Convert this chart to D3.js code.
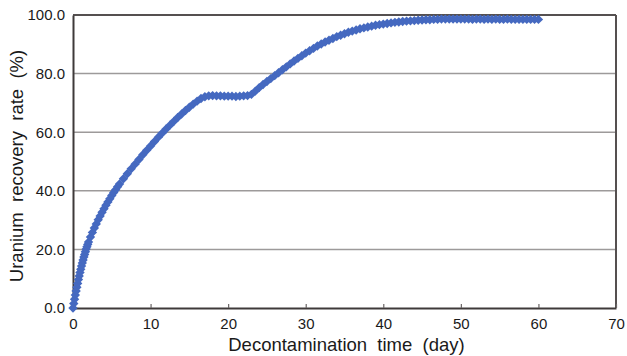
<!DOCTYPE html>
<html>
<head>
<meta charset="utf-8">
<script src="https://cdn.jsdelivr.net/npm/d3@7"></script>
<style>
  html, body { margin: 0; padding: 0; background: #fff; }
  svg { display: block; }
  text { font-family: "Liberation Sans", Arial, sans-serif; fill: #1a1a1a; }
</style>
</head>
<body>
<svg id="chart" width="627" height="356"></svg>
<script>
// ---- data ----
const days = [
  0,0.1,0.2,0.3,0.4,0.5,0.6,0.7,0.8,0.9,1.0,1.1,1.2,1.3,1.4,1.5,1.6,1.7,1.8,1.9,2.0,
  2.25,2.5,2.75,3,3.25,3.5,3.75,4,4.25,4.5,4.75,5,5.25,5.5,5.75,6,
  6.5,7,7.5,8,8.5,9,9.5,10,10.5,11,11.5,12,12.5,13,13.5,14,14.5,15,15.5,16,16.5,
  17,17.5,18,18.5,19,19.5,20,20.5,21,21.5,22,22.5,23,23.5,24,24.5,25,25.5,26,26.5,
  27,27.5,28,28.5,29,29.5,30,30.5,31,31.5,32,32.5,33,33.5,34,34.5,35,35.5,36,36.5,
  37,37.5,38,38.5,39,39.5,40,40.5,41,41.5,42,42.5,43,43.5,44,44.5,45,45.5,46,46.5,
  47,47.5,48,48.5,49,49.5,50,50.5,51,51.5,52,52.5,53,53.5,54,54.5,55,55.5,56,56.5,
  57,57.5,58,58.5,59,59.5,60
];
const recovery = [
  0,1.5,3.0,4.4,5.8,7.1,8.4,9.7,10.9,12.1,13.2,14.3,15.4,16.4,17.4,18.3,19.2,20.1,20.9,21.7,22.5,
  24.2,25.8,27.3,28.7,30.1,31.4,32.7,33.9,35.1,36.2,37.3,38.4,39.4,40.4,41.4,42.3,
  44.1,45.8,47.5,49.1,50.7,52.3,53.8,55.3,56.8,58.3,59.7,61.1,62.4,63.7,65.0,66.2,67.4,68.5,69.6,70.6,71.5,
  72.1,72.4,72.5,72.4,72.4,72.3,72.3,72.3,72.2,72.3,72.4,72.5,72.9,74.0,75.2,76.3,77.3,78.3,79.3,80.3,
  81.3,82.3,83.3,84.3,85.2,86.1,87.0,87.8,88.6,89.4,90.1,90.8,91.4,92.0,92.6,93.1,93.6,94.1,94.5,94.9,
  95.3,95.6,95.9,96.2,96.5,96.7,96.9,97.1,97.3,97.5,97.6,97.8,97.9,98.0,98.1,98.2,98.3,98.4,98.4,98.5,
  98.5,98.6,98.6,98.6,98.6,98.6,98.6,98.6,98.6,98.5,98.6,98.6,98.5,98.6,98.5,98.6,98.5,98.5,98.6,98.5,
  98.5,98.5,98.5,98.5,98.5,98.5,98.5
];
const xTicks = [0,10,20,30,40,50,60,70];
const yTicks = [0,20,40,60,80,100];
const xTitle = "Decontamination\u00a0\u00a0time\u00a0\u00a0(day)";
const yTitle = "Uranium\u00a0\u00a0recovery\u00a0\u00a0rate\u00a0\u00a0(%)";

// ---- layout ----
const svg = d3.select("#chart");
const L = 73, R = 616, T = 15, B = 308;
const x = d3.scaleLinear().domain([0, 70]).range([L, R]);
const y = d3.scaleLinear().domain([0, 100]).range([B, T]);

// gridlines
svg.append("g")
  .selectAll("line")
  .data(yTicks.filter(v => v > 0 && v < 100))
  .join("line")
  .attr("x1", L).attr("x2", R)
  .attr("y1", d => y(d)).attr("y2", d => y(d))
  .attr("stroke", "#9d9a9a").attr("stroke-width", 1.5);

// frame (top & right)
svg.append("line").attr("x1", L).attr("x2", R).attr("y1", T).attr("y2", T)
  .attr("stroke", "#555050").attr("stroke-width", 2);
svg.append("line").attr("x1", R).attr("x2", R).attr("y1", T).attr("y2", B)
  .attr("stroke", "#555050").attr("stroke-width", 2);

// x axis
const xAxis = svg.append("g").attr("transform", `translate(0,${B})`)
  .call(d3.axisBottom(x).tickValues(xTicks).tickSizeInner(-4).tickSizeOuter(0).tickPadding(10)
        .tickFormat(d3.format("d")));
xAxis.select(".domain").attr("stroke", "#3f3a3a").attr("stroke-width", 2);
xAxis.selectAll(".tick line").attr("stroke", "#6a6565").attr("stroke-width", 1.2);
xAxis.selectAll(".tick text").attr("font-size", 15).attr("fill", "#1a1a1a")
  .attr("font-family", "Liberation Sans, Arial, sans-serif");

// y axis
const yAxis = svg.append("g").attr("transform", `translate(${L},0)`)
  .call(d3.axisLeft(y).tickValues(yTicks).tickSize(0).tickPadding(8)
        .tickFormat(d3.format(".1f")));
yAxis.select(".domain").attr("stroke", "#3f3a3a").attr("stroke-width", 2);
yAxis.selectAll(".tick text").attr("font-size", 15).attr("fill", "#1a1a1a")
  .attr("font-family", "Liberation Sans, Arial, sans-serif");

// data points (diamonds)
const pts = days.map((d, i) => ({ d, v: recovery[i] }));
const sym = d3.symbol().type(d3.symbolSquare).size(44);
svg.append("g")
  .selectAll("path")
  .data(pts)
  .join("path")
  .attr("d", sym)
  .attr("transform", p => `translate(${x(p.d)},${y(p.v)}) rotate(45)`)
  .attr("fill", "#4569c0");

// titles
svg.append("text")
  .attr("x", (L + R) / 2 + 2).attr("y", 351)
  .attr("text-anchor", "middle").attr("font-size", 18.5)
  .text(xTitle);
svg.append("text")
  .attr("transform", `translate(23,${166}) rotate(-90)`)
  .attr("text-anchor", "middle").attr("font-size", 18.5)
  .text(yTitle);
</script>
</body>
</html>
